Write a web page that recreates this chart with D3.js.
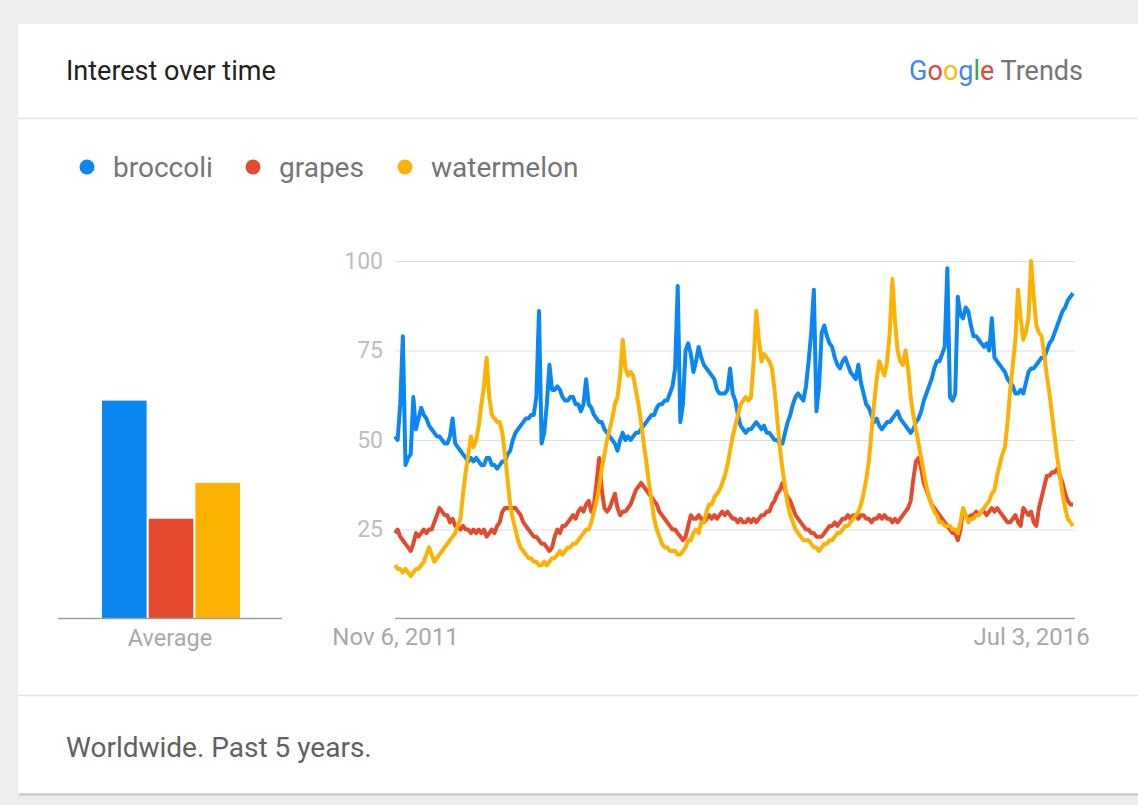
<!DOCTYPE html>
<html>
<head>
<meta charset="utf-8">
<script src="https://cdn.jsdelivr.net/npm/d3@7/dist/d3.min.js"></script>
<style>
  body { margin: 0; background: #eeeeee; font-family: Roboto, "Noto Sans", sans-serif; }
  svg { display: block; }
</style>
</head>
<body>
<script>
let w = 1138;
let h = 805;

let terms = ["broccoli", "grapes", "watermelon"];
let colors = ["#0b87f2", "#e64a2e", "#fdb100"];
let averages = [61, 28, 38];
let startDate = new Date(2011, 10, 6);
let xTickDates = [new Date(2011, 10, 6), new Date(2016, 6, 3)];
let yTicks = [25, 50, 75, 100];

// weekly values
let broccoli = [
  51,50,60,79,43,45,46,62,53,56, 59,57,56,54,53,52,51,51,50,49,
  49,51,56,49,48,47,46,45,44,45, 44,45,44,43,43,45,45,43,43,42,
  43,44,44,46,47,50,52,53,54,55, 56,56,57,57,62,86,49,52,60,71,
  64,64,65,64,62,61,61,62,62,60, 60,58,60,67,60,59,57,56,55,55,
  53,52,51,50,49,47,50,52,50,51, 50,51,52,52,53,54,55,56,57,57,
  59,60,60,61,61,63,65,70,93,55, 60,75,77,74,69,72,76,73,71,70,
  69,68,67,64,63,63,63,64,70,63, 61,57,54,53,52,53,53,54,55,54,
  53,54,52,52,51,50,50,49,49,52, 55,57,60,62,63,62,61,65,72,80,
  92,58,65,80,82,79,77,76,73,71, 70,72,73,71,69,68,67,71,66,63,
  60,59,57,55,56,54,53,54,55,55, 56,57,58,56,55,54,53,52,53,55,
  56,58,61,63,65,67,70,72,72,74, 76,98,62,61,63,90,85,84,87,86,
  82,79,79,78,77,76,77,75,84,73, 72,71,70,69,67,66,65,63,63,64,
  63,66,69,70,70,71,72,73,73,75, 77,78,80,82,84,86,87,89,90,91
];
let grapes = [
  24,25,23,22,21,20,19,21,24,23, 24,25,24,25,25,27,29,31,30,29,
  29,27,28,26,26,25,26,25,25,24, 25,24,25,24,25,23,24,25,24,26,
  27,30,31,31,31,31,31,30,29,27, 26,25,24,23,23,22,21,21,20,19,
  20,23,25,24,26,26,27,28,29,28, 30,31,30,32,33,30,32,38,45,36,
  31,30,31,33,35,31,29,30,30,31, 32,34,36,37,38,37,36,35,34,33,
  32,30,29,28,27,26,25,25,24,23, 22,23,26,29,28,28,29,28,27,28,
  29,28,29,28,29,30,29,30,29,28, 28,27,28,27,27,28,27,28,27,28,
  29,29,30,30,32,33,35,36,38,36, 34,33,31,29,28,27,26,25,25,24,
  24,23,23,23,24,25,26,26,27,26, 27,28,28,29,28,29,29,28,29,29,
  28,28,27,28,28,29,28,29,28,28, 27,28,27,28,29,30,31,33,39,44,
  45,42,38,36,34,32,31,30,29,28, 27,26,25,24,24,22,25,30,29,28,
  29,29,30,29,30,30,29,30,31,30, 31,30,29,28,27,27,28,29,27,26,
  31,30,29,30,27,26,31,34,37,40, 40,41,41,42,40,38,35,33,32,32
];
let watermelon = [
  15,14,14,13,14,13,12,13,14,14, 15,16,18,20,18,16,17,18,19,20,
  21,22,23,24,26,28,35,41,46,51, 48,50,54,60,65,73,62,57,56,55,
  55,52,46,39,32,28,25,22,20,19, 18,17,17,16,16,15,15,16,15,16,
  17,17,18,19,18,19,20,20,21,21, 22,23,24,25,25,27,30,33,37,42,
  46,50,53,56,60,62,68,78,70,68, 69,68,64,60,55,49,44,38,33,28,
  25,23,21,20,20,19,19,19,18,18, 19,20,22,22,24,25,24,27,27,30,
  32,32,34,35,36,38,40,43,47,51, 54,57,60,61,62,61,62,72,86,78,
  72,74,73,72,70,64,56,48,42,37, 32,29,27,25,24,23,22,22,22,21,
  20,20,19,20,21,21,22,22,23,24, 24,25,26,26,27,28,29,30,32,35,
  39,44,52,60,67,72,70,68,72,80, 95,83,75,72,71,75,70,62,57,53,
  49,45,41,37,34,32,30,29,27,27, 26,26,26,25,25,24,27,31,29,27,
  28,28,29,29,30,31,32,33,35,36, 40,43,46,48,55,64,71,78,92,84,
  78,80,84,100,90,82,80,79,74,68, 63,57,51,45,40,35,31,28,27,26
];

let series = [broccoli, grapes, watermelon];
let dates = broccoli.map((d, i) => d3.timeWeek.offset(startDate, i));

let svg = d3.select("body")
  .append("svg")
  .attr("width", w)
  .attr("height", h);

// card
svg.append("rect")
  .attr("x", 19).attr("y", 26)
  .attr("width", 1130).attr("height", 770)
  .attr("fill", "#d2d2d2");
svg.append("rect")
  .attr("x", 18).attr("y", 24)
  .attr("width", 1130).attr("height", 769)
  .attr("fill", "#ffffff");

svg.append("line")
  .attr("x1", 18).attr("x2", w)
  .attr("y1", 118.5).attr("y2", 118.5)
  .attr("stroke", "#e2e2e2").attr("stroke-width", 1.5);
svg.append("line")
  .attr("x1", 18).attr("x2", w)
  .attr("y1", 695.5).attr("y2", 695.5)
  .attr("stroke", "#e2e2e2").attr("stroke-width", 1.5);

svg.append("text")
  .attr("x", 66).attr("y", 80)
  .style("font-size", "27px")
  .style("fill", "#212121")
  .text("Interest over time");

let brand = svg.append("text")
  .attr("x", 1083).attr("y", 80)
  .attr("text-anchor", "end")
  .style("font-size", "27px");
[["G", "#4285f4"], ["o", "#ea4335"], ["o", "#fbbc05"], ["g", "#4285f4"], ["l", "#34a853"], ["e", "#ea4335"]]
  .forEach(p => brand.append("tspan").style("fill", p[1]).text(p[0]));
brand.append("tspan").style("fill", "#757575").text(" Trends");

svg.append("text")
  .attr("x", 66).attr("y", 757)
  .style("font-size", "28px")
  .style("fill", "#616161")
  .text("Worldwide. Past 5 years.");

// legend
let legendX = [87, 253, 405];
let legend = svg.append("g").attr("id", "legend")
  .selectAll("g")
  .data(terms)
  .enter()
  .append("g")
  .attr("transform", (d, i) => "translate(" + legendX[i] + ",167)");
legend.append("circle")
  .attr("r", 7.5)
  .attr("fill", (d, i) => colors[i]);
legend.append("text")
  .attr("x", 26)
  .attr("dy", "0.35em")
  .style("font-size", "28px")
  .style("fill", "#757575")
  .text(d => d);

// shared value scale
let yScale = d3.scaleLinear().domain([0, 100]).range([619, 261]);

// average bars
let barX = d3.scaleBand().domain(terms).range([102, 240]).paddingInner(0.045);
svg.append("g")
  .selectAll("rect")
  .data(averages)
  .enter()
  .append("rect")
  .attr("x", (d, i) => barX(terms[i]))
  .attr("width", barX.bandwidth())
  .attr("y", d => yScale(d))
  .attr("height", d => yScale(0) - yScale(d))
  .attr("fill", (d, i) => colors[i]);
svg.append("line")
  .attr("x1", 58).attr("x2", 282)
  .attr("y1", 618.5).attr("y2", 618.5)
  .attr("stroke", "#9e9e9e").attr("stroke-width", 1.5);
svg.append("text")
  .attr("x", 170).attr("y", 646)
  .attr("text-anchor", "middle")
  .style("font-size", "23.5px")
  .style("fill", "#a8a8a8")
  .text("Average");

// line chart
let xScale = d3.scaleTime()
  .domain([dates[0], dates[dates.length - 1]])
  .range([395, 1073]);

let yAxis = d3.axisLeft(yScale)
  .tickValues(yTicks)
  .tickSize(-680)
  .tickPadding(12);
let yG = svg.append("g")
  .attr("id", "y-axis")
  .attr("transform", "translate(395,0)")
  .call(yAxis);
yG.select(".domain").remove();
yG.selectAll(".tick line").attr("stroke", "#e0e0e0").attr("stroke-width", 1.2);
yG.selectAll(".tick text")
  .style("font-size", "23px")
  .style("font-family", "Roboto, sans-serif")
  .style("fill", "#bdbdbd");

svg.append("line")
  .attr("x1", 395).attr("x2", 1075)
  .attr("y1", 618.5).attr("y2", 618.5)
  .attr("stroke", "#9e9e9e").attr("stroke-width", 1.5);

let xAxis = d3.axisBottom(xScale)
  .tickValues(xTickDates)
  .tickFormat(d3.timeFormat("%b %-d, %Y"))
  .tickSize(0)
  .tickPadding(9);
let xG = svg.append("g")
  .attr("id", "x-axis")
  .attr("transform", "translate(0,619)")
  .call(xAxis);
xG.select(".domain").remove();
xG.selectAll(".tick text")
  .style("font-size", "24px")
  .style("font-family", "Roboto, sans-serif")
  .style("fill", "#a8a8a8");

let line = d3.line()
  .x((d, i) => xScale(dates[i]))
  .y(d => yScale(d));

svg.append("g")
  .selectAll("path")
  .data(series)
  .enter()
  .append("path")
  .attr("d", d => line(d))
  .attr("fill", "none")
  .attr("stroke", (d, i) => colors[i])
  .attr("stroke-width", 4)
  .attr("stroke-linejoin", "round");
</script>
</body>
</html>
